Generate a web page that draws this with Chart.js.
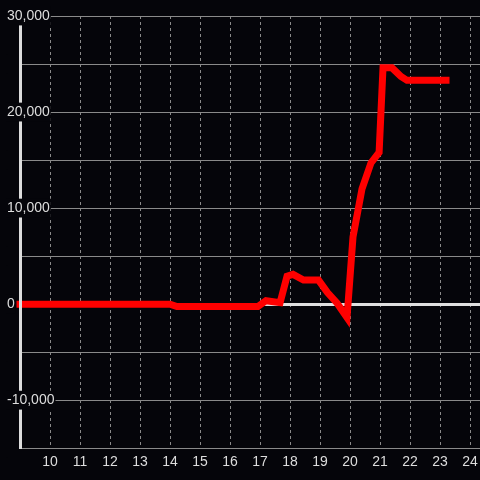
<!DOCTYPE html>
<html>
<head>
<meta charset="utf-8">
<script src="https://cdn.jsdelivr.net/npm/chart.js@4"></script>
<style>
  html, body { margin: 0; padding: 0; background: #05050a; }
  #wrap { width: 480px; height: 480px; }
</style>
</head>
<body>
<div id="wrap"><canvas id="chart"></canvas></div>
<script>
// === DADOS ===
const hours  = [9, 14, 14.23, 16.93, 17.2, 17.67, 17.9, 18.1, 18.45, 18.95, 19.25, 19.57, 19.9, 20.1, 20.4, 20.7, 20.97, 21.1, 21.4, 21.7, 21.9, 23.2];
const values = [0, 0, -250, -250, 350, 150, 2900, 3100, 2500, 2500, 1200, 100, -1400, 7000, 12000, 14700, 15800, 24600, 24600, 23700, 23300, 23300];
const xTickValues = [10, 11, 12, 13, 14, 15, 16, 17, 18, 19, 20, 21, 22, 23, 24];
const yTickLabels = [-10000, 0, 10000, 20000, 30000];

const BG = '#05050a';
Chart.defaults.font.family = '"Liberation Sans", Arial, sans-serif';
Chart.defaults.font.size = 14;
Chart.defaults.color = '#dddddd';

const ctx = document.getElementById('chart').getContext('2d');
new Chart(ctx, {
    type: 'line',
    data: {
        datasets: [{
            data: hours.map((h, i) => ({ x: h, y: values[i] })),
            borderColor: '#ff0000',
            borderWidth: 7,
            pointRadius: 0,
            tension: 0,
            borderCapStyle: 'square',
            borderJoinStyle: 'miter',
            clip: false
        }]
    },
    options: {
        responsive: true,
        maintainAspectRatio: false,
        animation: false,
        layout: { padding: { left: 20, top: 16, right: 0, bottom: 3 } },
        plugins: { legend: { display: false }, tooltip: { enabled: false } },
        scales: {
            x: {
                type: 'linear',
                min: 9,
                max: 24.333,
                afterBuildTicks: s => { s.ticks = xTickValues.map(v => ({ value: v })); },
                afterFit: s => { s.paddingLeft = 0; s.paddingRight = 0; },
                ticks: { padding: 6, maxRotation: 0, autoSkip: false, color: '#dddddd' },
                grid: { color: '#8a8a8a', lineWidth: 1, drawTicks: false },
                border: { display: false, dash: [3, 3] }
            },
            y: {
                position: 'left',
                min: -15000,
                max: 30000,
                afterFit: s => { s.width = 0; s.paddingTop = 0; s.paddingBottom = 0; },
                ticks: {
                    stepSize: 5000,
                    mirror: true,
                    padding: -13,
                    z: 1,
                    color: '#dddddd',
                    showLabelBackdrop: true,
                    backdropColor: BG,
                    backdropPadding: 1,
                    callback: v => yTickLabels.includes(v) ? v.toLocaleString('en-US') : ''
                },
                grid: {
                    drawTicks: false,
                    color: c => c.tick && c.tick.value === 0 ? '#e0e0e0' : '#8a8a8a',
                    lineWidth: c => c.tick && c.tick.value === 0 ? 3 : 1
                },
                border: { display: true, color: '#dddddd', width: 3, z: 1 }
            }
        }
    }
});
</script>
</body>
</html>
